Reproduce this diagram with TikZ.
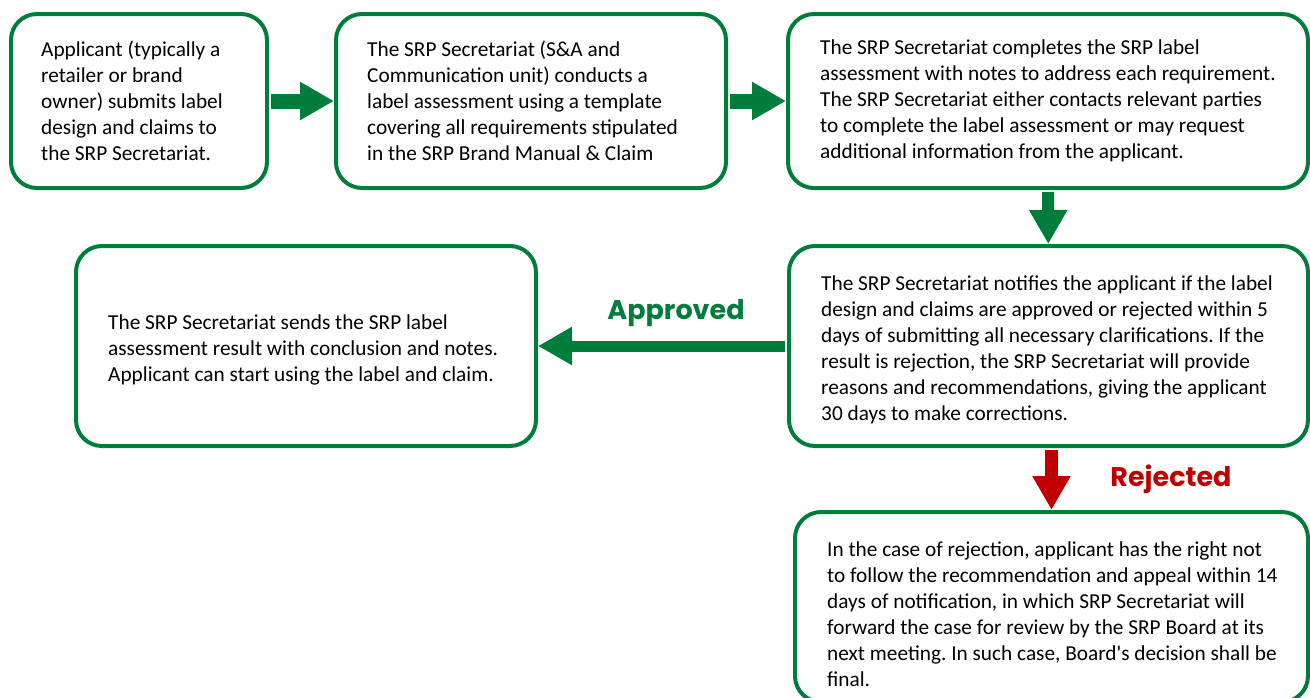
\documentclass[tikz,border=0pt]{standalone}
\usepackage{fontspec}
\setmainfont{Carlito}
\newfontfamily\lblfont{Poppins}
\usepackage{tikz}
\usetikzlibrary{arrows.meta,positioning}
\definecolor{srpgreen}{RGB}{0,125,58}
\definecolor{srpred}{RGB}{192,0,0}
\tikzset{
  stepbox/.style={draw=srpgreen, line width=4pt, fill=white, rounded corners=26pt, inner sep=0pt},
  steptext/.style={align=left, inner sep=0pt, font=\fontsize{21.3}{26}\selectfont},
  flow/.style={draw=srpgreen, line width=15pt, shorten <=2pt,
    -{Triangle[length=34pt,width=36pt]}},
  decision/.style={font=\lblfont\bfseries\fontsize{27}{30}\selectfont}
}

\begin{document}
\frenchspacing
\begin{tikzpicture}[x=1pt,y=-1pt]
        \useasboundingbox (0,0) rectangle (1310,697);

        \node[stepbox, minimum width=256, minimum height=174] (submit) at (139,101) {};
        \node[stepbox, minimum width=390, minimum height=174] (assess) at (531,101) {};
        \node[stepbox, minimum width=520, minimum height=174] (complete) at (1048,101) {};
        \node[stepbox, minimum width=519, minimum height=200] (notify) at (1048.5,346) {};
        \node[stepbox, minimum width=460, minimum height=200] (result) at (306,346) {};
        \node[stepbox, minimum width=513, minimum height=190] (appeal) at (1051.5,607) {};

        \node[steptext, right=32pt of submit.west] (submittext)
          {Applicant (typically a\\ retailer or brand\\ owner) submits label\\ design and claims to\\ the SRP Secretariat.};
        \node[steptext, right=33pt of assess.west] (assesstext)
          {The SRP Secretariat (S\&A and\\ Communication unit) conducts a\\ label assessment using a template\\ covering all requirements stipulated\\ in the SRP Brand Manual \& Claim};
        \node[steptext, right=34pt of complete.west] (completetext)
          {The SRP Secretariat completes the SRP label\\ assessment with notes to address each requirement.\\ The SRP Secretariat either contacts relevant parties\\ to complete the label assessment or may request\\ additional information from the applicant.};
        \node[steptext, right=34pt of notify.west, yshift=-4pt] (notifytext)
          {The SRP Secretariat notifies the applicant if the label\\ design and claims are approved or rejected within 5\\ days of submitting all necessary clarifications. If the\\ result is rejection, the SRP Secretariat will provide\\ reasons and recommendations, giving the applicant\\ 30 days to make corrections.};
        \node[steptext, right=34pt of result.west, yshift=-4pt] (resulttext)
          {The SRP Secretariat sends the SRP label\\ assessment result with conclusion and notes.\\ Applicant can start using the label and claim.};
        \node[steptext, right=34pt of appeal.west, yshift=-7pt] (appealtext)
          {In the case of rejection, applicant has the right not\\ to follow the recommendation and appeal within 14\\ days of notification, in which SRP Secretariat will\\ forward the case for review by the SRP Board at its\\ next meeting. In such case, Board\textquotesingle s decision shall be\\ final.};

        \draw[flow] (submit) -- (assess);
        \draw[flow, line width=15pt] (assess) -- (complete);
        \draw[flow, line width=12pt] (complete) -- (notify);
        \draw[flow, line width=11pt] (notify) -- (result);
        \draw[flow, draw=srpred, line width=13pt] (appeal.north |- notify.south) -- (appeal.north);

        \node[decision, text=srpgreen] (approved) at (676,313) {Approved};
        \node[decision, text=srpred] (rejected) at (1171,479) {Rejected};
      \end{tikzpicture}
\end{document}
